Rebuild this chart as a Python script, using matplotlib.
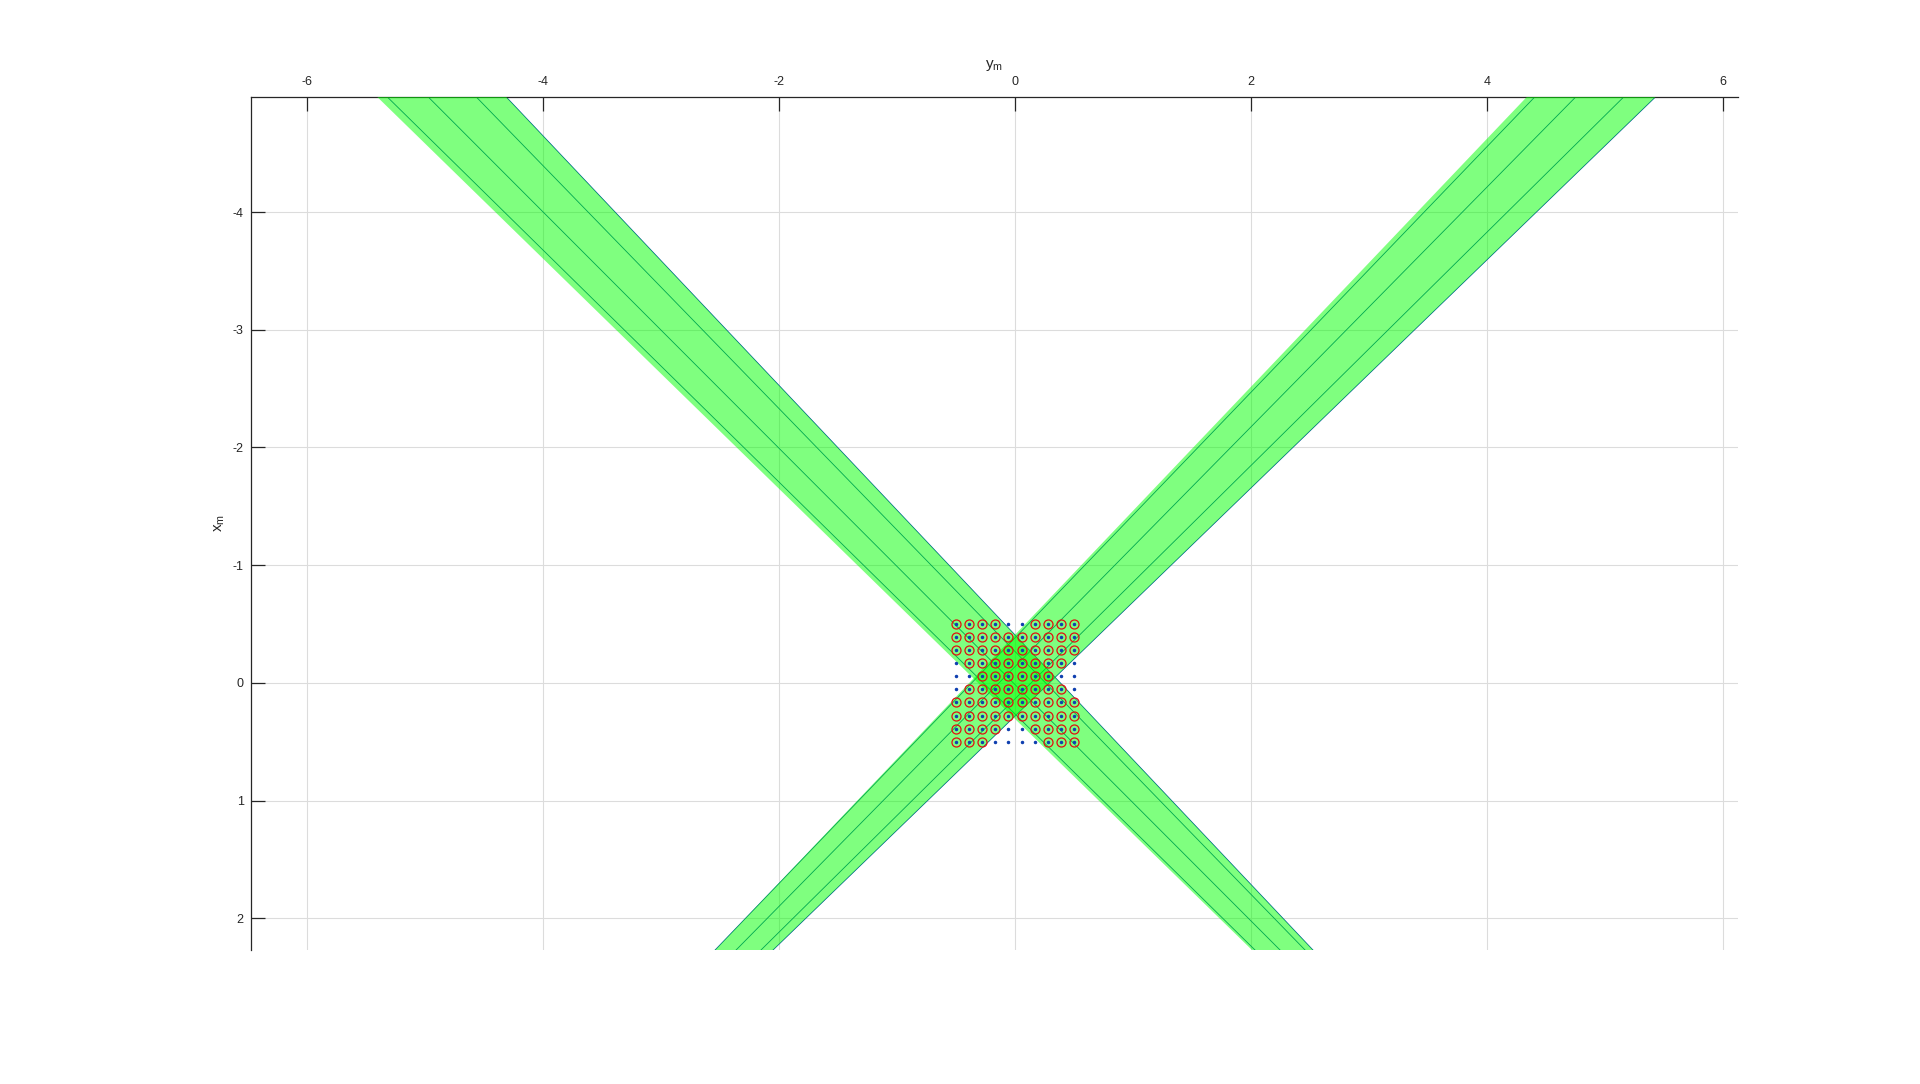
import matplotlib
matplotlib.use('Agg')
import matplotlib.pyplot as plt

plt.rcParams['font.family'] = ['Liberation Sans', 'DejaVu Sans']
plt.rcParams['axes.unicode_minus'] = False

# sample grid (same values on both axes)
grid_pts = [-0.5, -0.389, -0.278, -0.167, -0.056, 0.056, 0.167, 0.278, 0.389, 0.5]
# 1 = red circle drawn at that grid point (rows follow x_m, columns follow y_m)
circle_rows = [
    "1111001111",
    "1111111111",
    "1111111111",
    "0111111110",
    "0011111100",
    "0111111110",
    "1111111111",
    "1111111111",
    "1111001111",
    "1110000111",
]

# x_m at the two ends of the beams
beam_ends = [-4.98, 2.27]

# beam 1: upper left -> lower right (y_m at the top end / bottom end)
beam1_fill_top = [-5.407, -4.314]
beam1_fill_bot = [2.008, 2.525]
beam1_rays_top = [-5.322, -4.975, -4.568, -4.314]
beam1_rays_bot = [2.034, 2.246, 2.458, 2.525]

# beam 2: upper right -> lower left
beam2_fill_top = [4.339, 5.430]
beam2_fill_bot = [-2.542, -2.051]
beam2_rays_top = [4.407, 4.754, 5.161, 5.430]
beam2_rays_bot = [-2.542, -2.364, -2.153, -2.051]

x_ticks = [-6, -4, -2, 0, 2, 4, 6]
y_ticks = [-4, -3, -2, -1, 0, 1, 2]

fig = plt.figure(figsize=(19.2, 10.84), dpi=100)
ax = fig.add_axes([0.1306, 0.1236, 0.7746, 0.7872])

# beams
for fill_top, fill_bot, rays_top, rays_bot in [
        (beam1_fill_top, beam1_fill_bot, beam1_rays_top, beam1_rays_bot),
        (beam2_fill_top, beam2_fill_bot, beam2_rays_top, beam2_rays_bot)]:
    for t, b in zip(rays_top, rays_bot):
        ax.plot([t, b], beam_ends, color='#0050a0', lw=0.6, zorder=2)
    ax.fill([fill_top[0], fill_top[1], fill_bot[1], fill_bot[0]],
            [beam_ends[0], beam_ends[0], beam_ends[1], beam_ends[1]],
            color=(0, 1, 0), alpha=0.5, lw=0, zorder=3)

# grid points
dot_h, dot_v, circ_h, circ_v = [], [], [], []
for i, xv in enumerate(grid_pts):
    for j, yv in enumerate(grid_pts):
        dot_h.append(yv)
        dot_v.append(xv)
        if circle_rows[i][j] == "1":
            circ_h.append(yv)
            circ_v.append(xv)

ax.plot(circ_h, circ_v, 'o', mfc='none', mec='#e01010', ms=6.5, mew=0.9, zorder=4)
ax.plot(dot_h, dot_v, '.', color='#1040b0', ms=3, zorder=4)

ax.set_xlim(-6.477, 6.127)
ax.set_ylim(2.27, -4.98)
ax.set_xticks(x_ticks)
ax.set_yticks(y_ticks)
ax.xaxis.tick_top()
ax.xaxis.set_label_position('top')

ax.grid(True, color='#dcdcdc', lw=0.8)
ax.set_axisbelow(True)

for side in ['right', 'bottom']:
    ax.spines[side].set_visible(False)
for side in ['top', 'left']:
    ax.spines[side].set_color('#262626')
    ax.spines[side].set_linewidth(0.9)

ax.tick_params(axis='both', direction='in', length=10, width=0.9,
               color='#262626', labelcolor='#262626', labelsize=9)
ax.tick_params(axis='x', pad=6)
ax.tick_params(axis='y', pad=5)

ax.set_xlabel(r'$\mathregular{y_m}$', fontsize=11, color='#262626', labelpad=6)
ax.set_ylabel(r'$\mathregular{x_m}$', fontsize=11, color='#262626', labelpad=4)

fig.savefig('out.png', dpi=100)
